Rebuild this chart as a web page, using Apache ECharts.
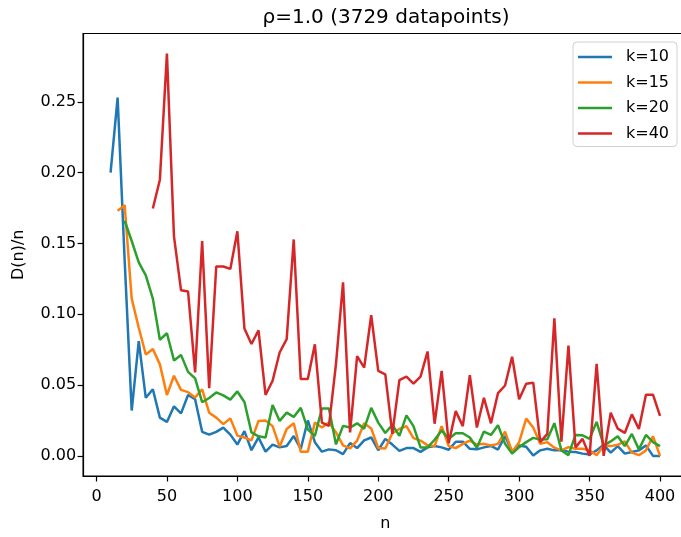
<!DOCTYPE html>
<html>
<head>
<meta charset="utf-8">
<script src="https://cdn.jsdelivr.net/npm/echarts@6/dist/echarts.min.js"></script>
<style>
html,body{margin:0;padding:0;background:#fff;overflow:hidden;width:681px;height:537px;}
#chart{width:700px;height:537px;}
</style>
</head>
<body>
<div id="chart"></div>
<script>
const titleText = 'ρ=1.0 (3729 datapoints)';
const xTicks = [0, 50, 100, 150, 200, 250, 300, 350, 400];
const yTicks = [0.00, 0.05, 0.10, 0.15, 0.20, 0.25];
const seriesNames = ['k=10', 'k=15', 'k=20', 'k=40'];
const seriesColors = ['#1f77b4', '#ff7f0e', '#2ca02c', '#d62728'];

const nValues = [10,15,20,25,30,35,40,45,50,55,60,65,70,75,80,85,90,95,100,
  105,110,115,120,125,130,135,140,145,150,155,160,165,170,175,180,185,190,195,200,
  205,210,215,220,225,230,235,240,245,250,255,260,265,270,275,280,285,290,295,300,
  305,310,315,320,325,330,335,340,345,350,355,360,365,370,375,380,385,390,395,400];

// k=10 starts at n=10
const k10 = [0.200,0.253,0.138,0.032,0.081,0.041,0.047,0.027,0.024,0.035,0.030,0.043,0.040,0.017,0.015,0.017,0.020,0.015,0.008,
  0.0175,0.004,0.013,0.003,0.008,0.006,0.007,0.014,0.005,0.025,0.0097,0.003,0.0046,0.004,0.0012,0.009,0.0055,0.011,0.013,0.004,
  0.012,0.008,0.0035,0.0055,0.0055,0.0028,0.006,0.007,0.006,0.0043,0.010,0.010,0.005,0.0046,0.006,0.007,0.0045,0.014,0.003,0.0074,
  0.0065,0.0003,0.0039,0.005,0.0039,0.004,0.003,0.0028,0.0016,0.001,0.0039,0.0078,0.0023,0.0069,0.0016,0.0028,0.0039,0.0074,0.0,0.0];
// k=15 starts at n=15
const k15 = [0.173,0.177,0.111,0.0905,0.0716,0.0755,0.0646,0.043,0.0566,0.0466,0.045,0.0413,0.047,0.0305,0.027,0.0224,0.0265,0.0143,
  0.013,0.011,0.0247,0.025,0.021,0.0065,0.019,0.023,0.003,0.003,0.0235,0.020,0.0235,0.0166,0.0074,0.0053,0.0108,0.023,0.0194,0.0055,
  0.0052,0.016,0.019,0.021,0.0125,0.0108,0.0074,0.0069,0.021,0.0069,0.0055,0.0085,0.0108,0.008,0.0085,0.0074,0.0085,0.0171,0.0028,0.0097,
  0.0263,0.020,0.0085,0.0097,0.0058,0.0039,0.0062,0.005,0.005,0.0039,0.0005,0.0074,0.0069,0.0078,0.0102,0.0023,0.0005,0.0039,0.0139,0.0];
// k=20 starts at n=20
const k20 = [0.166,0.1517,0.1366,0.1274,0.111,0.082,0.0866,0.0674,0.0713,0.0593,0.0547,0.0379,0.0409,0.0448,0.0427,0.0397,0.0455,
  0.038,0.0166,0.0138,0.013,0.036,0.0247,0.0305,0.0275,0.0339,0.0187,0.0140,0.0335,0.0335,0.0081,0.0212,0.020,0.023,0.0192,0.0339,0.0235,
  0.0162,0.022,0.0141,0.0286,0.021,0.006,0.006,0.0114,0.018,0.012,0.016,0.016,0.013,0.0058,0.0172,0.0148,0.0217,0.0085,0.0016,0.0062,
  0.0097,0.0127,0.0115,0.0118,0.0231,0.0039,0.0005,0.0148,0.0145,0.012,0.024,0.0074,0.0102,0.0139,0.0069,0.0155,0.0046,0.0148,0.0097,0.0069];
// k=40 starts at n=40
const k40 = [0.1747,0.195,0.284,0.155,0.117,0.116,0.059,0.1517,0.0478,0.1337,0.1337,0.132,0.1586,
  0.090,0.079,0.0886,0.043,0.053,0.073,0.0824,0.1528,0.0542,0.0542,0.0788,0.0235,0.0212,0.065,0.1225,0.0166,0.0704,0.0623,0.0993,0.060,
  0.0575,0.0155,0.0535,0.0559,0.051,0.0559,0.0737,0.0227,0.060,0.009,0.0316,0.021,0.057,0.020,0.041,0.023,0.0443,0.0497,0.070,0.040,
  0.051,0.0517,0.0097,0.0155,0.0972,0.010,0.0778,0.006,0.012,0.0,0.065,0.0,0.0305,0.0192,0.0162,0.0293,0.019,0.0432,0.0432,0.0282];

const seriesValues = [k10, k15, k20, k40];

function pairs(vals) {
  const offset = nValues.length - vals.length;
  return vals.map((v, i) => [nValues[i + offset], v]);
}

const FONT = 'DejaVu Sans';
const chart = echarts.init(document.getElementById('chart'), null, {renderer: 'canvas'});

const option = {
  animation: false,
  backgroundColor: '#fff',
  textStyle: {fontFamily: FONT},
  grid: {
    left: 83.1, top: 33.5, width: 604.4, height: 451,
    show: true, borderColor: '#000', borderWidth: 1.2, backgroundColor: 'transparent',
    containLabel: false
  },
  graphic: [{
    type: 'text', x: 386, y: 18, z: 10,
    style: {text: titleText, fill: '#000', font: '20px "DejaVu Sans"', textAlign: 'center', textVerticalAlign: 'middle'}
  }],
  legend: {
    orient: 'vertical', left: 573, top: 42,
    data: seriesNames,
    icon: 'rect', itemWidth: 34, itemHeight: 2.5, itemGap: 9.5,
    padding: [7, 8, 5, 5],
    borderColor: '#d0d0d0', borderWidth: 1, borderRadius: 4,
    backgroundColor: 'rgba(255,255,255,0.8)',
    textStyle: {fontFamily: FONT, fontSize: 16, color: '#000', lineHeight: 16, padding: [0, 0, 0, 9]}
  },
  xAxis: {
    type: 'value', min: -9.5, max: 419.5,
    name: 'n', nameLocation: 'middle', nameGap: 40,
    nameTextStyle: {fontFamily: FONT, fontSize: 16, color: '#000'},
    axisLine: {show: true, onZero: false, lineStyle: {color: '#000', width: 1.2}},
    axisTick: {show: true, inside: false, length: 5.5, lineStyle: {color: '#000', width: 1.2}, customValues: xTicks},
    axisLabel: {show: true, margin: 13, color: '#000', fontFamily: FONT, fontSize: 16, customValues: xTicks,
      formatter: v => String(Math.round(v))},
    splitLine: {show: false}
  },
  yAxis: {
    type: 'value', min: -0.0142, max: 0.2982,
    name: 'D(n)/n', nameLocation: 'middle', nameGap: 56, nameRotate: 90,
    nameTextStyle: {fontFamily: FONT, fontSize: 16, color: '#000'},
    axisLine: {show: true, onZero: false, lineStyle: {color: '#000', width: 1.2}},
    axisTick: {show: true, inside: false, length: 5.5, lineStyle: {color: '#000', width: 1.2}, customValues: yTicks},
    axisLabel: {show: true, margin: 7, color: '#000', fontFamily: FONT, fontSize: 16, customValues: yTicks,
      formatter: v => Number(v).toFixed(2)},
    splitLine: {show: false}
  },
  series: seriesNames.map((name, i) => ({
    name: name, type: 'line', data: pairs(seriesValues[i]),
    symbol: 'none', showSymbol: false, clip: true,
    lineStyle: {color: seriesColors[i], width: 2.5},
    itemStyle: {color: seriesColors[i]},
    z: 2 + i
  }))
};
chart.setOption(option);
</script>
</body>
</html>
